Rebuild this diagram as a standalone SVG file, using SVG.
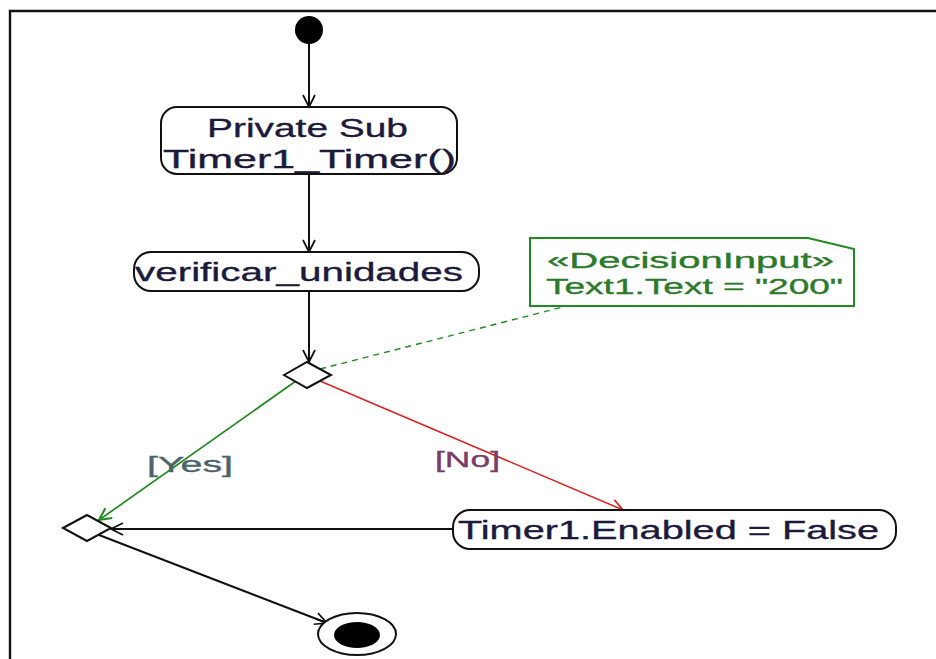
<svg xmlns="http://www.w3.org/2000/svg" width="936" height="659" viewBox="0 0 936 659">
<defs>
<style>
.t{font-family:"Liberation Sans",Arial,sans-serif;fill:#1c1a3c;stroke:#1c1a3c;stroke-width:0.35;}
.box{fill:#fff;stroke:#111;stroke-width:2;}
.ln{fill:none;stroke:#111;stroke-width:2;}
</style>
<marker id="ab" markerWidth="20" markerHeight="20" refX="15" refY="8" orient="auto" markerUnits="userSpaceOnUse"><path d="M3 2 L15 8 L3 14 M3 8 L15 8" fill="none" stroke="#111" stroke-width="1.7"/></marker>
<marker id="ag" markerWidth="20" markerHeight="20" refX="15" refY="8" orient="auto" markerUnits="userSpaceOnUse"><path d="M3 2 L15 8 L3 14" fill="none" stroke="#1f8a1f" stroke-width="2"/></marker>
<marker id="ar" markerWidth="20" markerHeight="20" refX="15" refY="8" orient="auto" markerUnits="userSpaceOnUse"><path d="M3 2 L15 8 L3 14" fill="none" stroke="#e02020" stroke-width="1.7"/></marker>
</defs>
<rect x="0" y="0" width="936" height="659" fill="#fff"/>
<path d="M10 659 V11 H936" fill="none" stroke="#111" stroke-width="2.4"/>

<g id="connectors">
<line class="ln" x1="309" y1="44" x2="309" y2="107" marker-end="url(#ab)"/>
<line class="ln" x1="309" y1="174" x2="309" y2="252" marker-end="url(#ab)"/>
<line class="ln" x1="309" y1="292" x2="309" y2="362" marker-end="url(#ab)"/>
<line x1="320" y1="369" x2="563" y2="307" stroke="#1f8a1f" stroke-width="1.4" stroke-dasharray="6,5"/>
<line x1="296" y1="381" x2="99" y2="520" stroke="#1f8a1f" stroke-width="1.7" marker-end="url(#ag)"/>
<line x1="320" y1="381" x2="623" y2="510" stroke="#e02020" stroke-width="1.5" marker-end="url(#ar)"/>
<line class="ln" x1="453" y1="529" x2="111" y2="529" marker-end="url(#ab)"/>
<line class="ln" x1="99" y1="535" x2="327" y2="623" marker-end="url(#ab)"/>
<text class="t" x="147" y="472" font-size="22" textLength="86" lengthAdjust="spacingAndGlyphs" style="fill:#4b6468;stroke:#4b6468">[Yes]</text>
<text class="t" x="435" y="467" font-size="22" textLength="65" lengthAdjust="spacingAndGlyphs" style="fill:#7a3d66;stroke:#7a3d66">[No]</text>
</g>

<g id="start">
<circle cx="309" cy="30" r="14" fill="#000"/>
</g>

<g id="n1">
<rect class="box" x="161" y="107" width="296" height="67" rx="16"/>
<text class="t" x="207" y="137" font-size="26" textLength="201" lengthAdjust="spacingAndGlyphs">Private Sub</text>
<text class="t" x="163" y="168" font-size="26" textLength="293" lengthAdjust="spacingAndGlyphs">Timer1_Timer()</text>
</g>

<g id="n2">
<rect class="box" x="134" y="252" width="345" height="39" rx="17"/>
<text class="t" x="135" y="281" font-size="26" textLength="328" lengthAdjust="spacingAndGlyphs">verificar_unidades</text>
</g>

<g id="d1">
<polygon class="box" points="284,375 307,362 331,375 307,388"/>
</g>

<g id="note">
<path d="M530 238 H808 L854 249 V306 H530 Z" fill="#fff" stroke="#1f8a1f" stroke-width="2"/>
<text class="t" x="547" y="268" font-size="22" textLength="287" lengthAdjust="spacingAndGlyphs" style="fill:#2a7a2a;stroke:#2a7a2a">«DecisionInput»</text>
<text class="t" x="546" y="294" font-size="22" textLength="297" lengthAdjust="spacingAndGlyphs" style="fill:#2a7a2a;stroke:#2a7a2a">Text1.Text = "200"</text>
</g>

<g id="d2">
<polygon class="box" points="63,528 87,515 111,528 87,541"/>
</g>

<g id="n3">
<rect class="box" x="453" y="510" width="443" height="39" rx="17"/>
<text class="t" x="458" y="539" font-size="26" textLength="421" lengthAdjust="spacingAndGlyphs">Timer1.Enabled = False</text>
</g>

<g id="end">
<ellipse cx="357" cy="634" rx="39" ry="21" fill="#fff" stroke="#111" stroke-width="2"/>
<ellipse cx="357" cy="635" rx="23" ry="13" fill="#000"/>
</g>
</svg>
